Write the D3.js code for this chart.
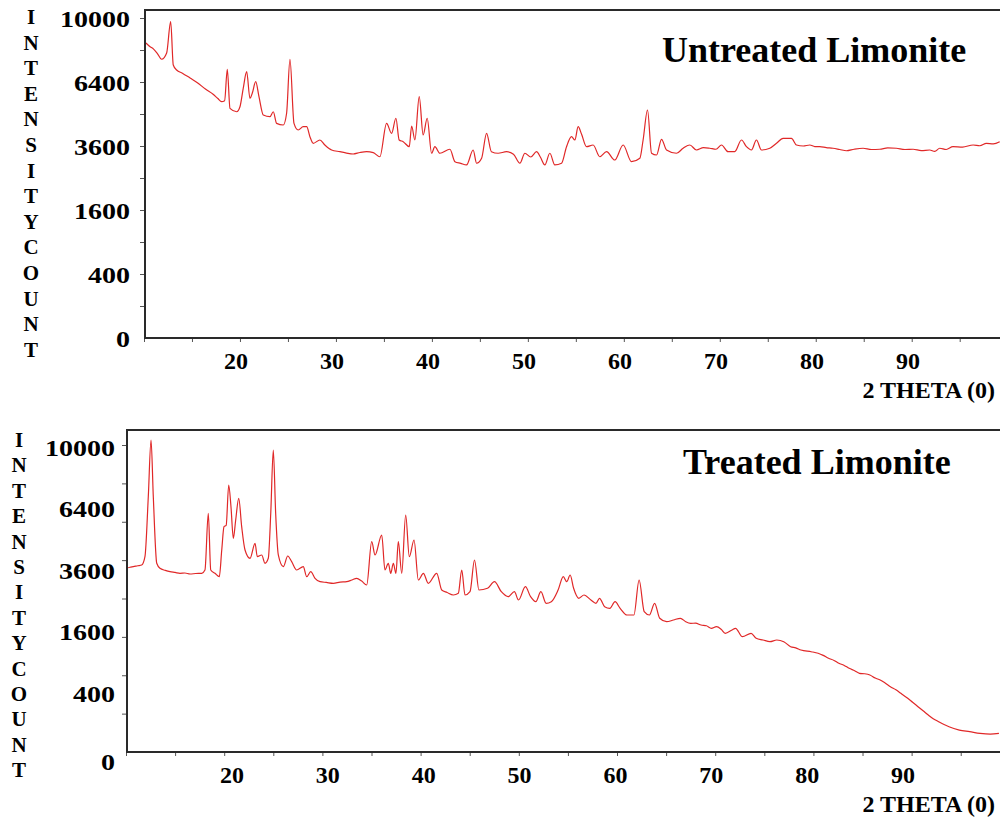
<!DOCTYPE html>
<html>
<head>
<meta charset="utf-8">
<script src="https://cdn.jsdelivr.net/npm/d3@7"></script>
<style>
    body { margin: 0; background: #fff; }
    svg { display: block; }
    text { font-family: "Liberation Serif", "Times New Roman", serif; font-weight: bold; fill: #000; }
</style>
</head>
<body>
<script>
//2 theta (deg), intensity count
var untreated = [
    [10.2, 8500], [10.6, 8300], [11.0, 8150], [11.4, 7900], [11.84, 7588], [12.36, 7932], [12.78, 9771], [13.05, 7278],
    [13.4, 7014], [14.0, 6850], [14.8, 6600], [15.6, 6350], [16.4, 6050], [17.2, 5800], [17.7, 5600], [18.09, 5452],
    [18.4, 5500], [18.68, 7050], [18.96, 5152], [19.66, 5000], [20.0, 5223], [20.34, 6088], [20.7, 6927], [21.04, 5611],
    [21.28, 5848], [21.64, 6415], [21.98, 5687], [22.43, 4856], [23.13, 4783], [23.47, 5000], [23.82, 4499], [24.51, 4430],
    [24.86, 4932], [25.21, 7588], [25.63, 4499], [26.07, 4225], [26.59, 4360], [26.95, 4360], [27.29, 3958], [27.64, 3702],
    [28.33, 3829], [28.85, 3638], [29.55, 3452], [30.42, 3390], [31.1, 3340], [31.8, 3306], [32.5, 3360], [33.2, 3390],
    [33.89, 3354], [34.58, 3209], [35.28, 4499], [35.8, 4092], [36.25, 4715], [36.59, 3829], [37.01, 3764], [37.64, 3574],
    [37.89, 4389], [38.23, 3829], [38.68, 5687], [39.09, 4024], [39.51, 4715], [39.97, 3333], [40.31, 3574], [40.83, 3333],
    [41.88, 3479], [42.4, 3036], [43.0, 2980], [43.61, 2925], [44.3, 3452], [44.66, 2982], [45.18, 3155], [45.7, 4092],
    [46.2, 3390], [46.9, 3333], [47.78, 3390], [48.5, 3300], [49.17, 2982], [49.69, 3333], [50.3, 3200], [50.91, 3390],
    [51.3, 3200], [51.77, 2925], [52.29, 3333], [52.81, 2925], [53.51, 2982], [54.03, 3574], [54.55, 3958], [54.9, 3830],
    [55.24, 4360], [55.6, 4050], [56.11, 3574], [56.8, 3638], [57.5, 3209], [58.2, 3390], [59.06, 3094], [59.93, 3638],
    [60.8, 3036], [61.67, 3155], [62.01, 3829], [62.47, 5077], [62.89, 3333], [63.41, 3270], [63.93, 3856], [64.45, 3452],
    [65.49, 3333], [66.18, 3516], [66.88, 3638], [67.57, 3452], [68.3, 3540], [68.96, 3516], [69.6, 3480], [70.18, 3638],
    [70.86, 3390], [71.56, 3390], [72.26, 3829], [72.78, 3574], [73.3, 3452], [73.82, 3829], [74.34, 3452], [75.21, 3516],
    [75.91, 3702], [76.59, 3895], [77.47, 3895], [77.99, 3638], [78.7, 3600], [79.38, 3638], [79.9, 3580], [80.42, 3574],
    [81.1, 3540], [81.8, 3516], [82.5, 3470], [83.2, 3424], [84.0, 3480], [84.93, 3516], [85.8, 3470], [86.67, 3479],
    [87.5, 3530], [88.4, 3516], [89.3, 3470], [90.14, 3479], [91.0, 3430], [91.88, 3452], [92.4, 3400], [92.92, 3516],
    [93.6, 3470], [94.3, 3574], [95.3, 3560], [96.4, 3638], [97.1, 3610], [97.78, 3702], [98.5, 3680], [99.17, 3764]
];

//2 theta (deg), intensity count
var treated = [
    [10.07, 3581], [10.4, 3620], [10.74, 3643], [11.2, 3680], [11.6, 3710], [11.93, 4047], [12.27, 6916], [12.55, 10328],
    [12.78, 6916], [13.13, 3778], [13.46, 3581], [14.0, 3500], [14.48, 3449], [15.0, 3420], [15.5, 3388], [16.0, 3400],
    [16.52, 3362], [17.1, 3380], [17.71, 3388], [18.04, 3515], [18.38, 6045], [18.63, 3515], [19.06, 3388], [19.5, 3260],
    [19.75, 4329], [19.98, 5386], [20.2, 5450], [20.46, 7564], [20.69, 6384], [20.93, 4845], [21.17, 5711], [21.48, 6829],
    [21.78, 5386], [22.12, 4329], [22.63, 3981], [23.14, 4621], [23.37, 4047], [23.82, 4118], [24.15, 3778], [24.49, 3981],
    [24.74, 6045], [25.0, 9677], [25.24, 6045], [25.51, 4118], [26.02, 3643], [26.47, 4076], [26.87, 3843], [27.38, 3515],
    [28.05, 3643], [28.4, 3260], [28.81, 3449], [29.25, 3201], [29.76, 3077], [30.4, 3050], [31.11, 3020], [31.8, 3060],
    [32.47, 3077], [33.0, 3140], [33.49, 3201], [34.0, 3100], [34.51, 2959], [35.02, 4693], [35.36, 4118], [36.04, 4996],
    [36.37, 3515], [36.71, 3778], [36.96, 3388], [37.22, 3778], [37.49, 3388], [37.73, 4693], [38.08, 3388], [38.48, 5960],
    [38.85, 4047], [39.33, 4769], [39.77, 3139], [40.28, 3388], [40.78, 3020], [41.64, 3388], [42.15, 2785], [42.7, 2700],
    [43.33, 2615], [43.84, 2672], [44.19, 3515], [44.52, 2615], [45.03, 2726], [45.49, 3911], [45.94, 2785], [46.81, 2843],
    [47.52, 3077], [48.22, 2726], [48.92, 2559], [49.55, 2726], [49.97, 2451], [50.67, 2899], [51.2, 2559], [51.73, 2397],
    [52.25, 2726], [52.78, 2346], [53.31, 2397], [54.0, 2785], [54.53, 3260], [54.88, 3077], [55.23, 3324], [55.58, 2843],
    [56.11, 2507], [56.64, 2615], [57.34, 2451], [57.86, 2346], [58.22, 2507], [58.74, 2240], [59.27, 2191], [59.8, 2397],
    [60.32, 2191], [61.02, 1991], [61.72, 1991], [62.25, 3139], [62.77, 2089], [63.3, 1991], [63.83, 2346], [64.35, 1897],
    [65.05, 1801], [65.75, 1849], [66.46, 1897], [67.0, 1800], [67.51, 1757], [68.0, 1760], [68.56, 1711], [69.1, 1690],
    [69.61, 1624], [70.13, 1666], [70.6, 1600], [71.02, 1495], [71.71, 1579], [72.07, 1624], [72.77, 1411], [73.65, 1495],
    [74.17, 1372], [74.87, 1331], [75.57, 1291], [76.27, 1331], [76.98, 1291], [77.68, 1176], [78.2, 1150], [78.73, 1104],
    [79.78, 1067], [80.48, 1034], [81.0, 990], [81.54, 932], [82.1, 890], [82.59, 835], [83.1, 800], [83.64, 743],
    [84.2, 700], [84.69, 657], [85.2, 650], [85.75, 629], [86.3, 580], [86.8, 550], [87.3, 505], [87.84, 452],
    [88.4, 410], [88.9, 366], [89.6, 306], [90.1, 262], [90.65, 218], [91.2, 178], [91.7, 145], [92.2, 118],
    [92.76, 97], [93.3, 80], [93.81, 68], [94.86, 51], [95.91, 44], [96.97, 37], [98.01, 34], [98.89, 37]
];

//tick labels and tick positions
var yLabels = [0, 400, 1600, 3600, 6400, 10000];
var xLabels = [20, 30, 40, 50, 60, 70, 80, 90];
var xTicks = [10, 15, 20, 25, 30, 35, 40, 45, 50, 55, 60, 65, 70, 75, 80, 85, 90, 95];
var topYTicks = [100, 400, 900, 1600, 2500, 3600, 4900, 6400, 8100, 10000];
var bottomYTicks = [156.25, 625, 1406.25, 2500, 3906.25, 5625, 7656.25, 10000];
var axisLetters = ["I", "N", "T", "E", "N", "S", "I", "T", "Y", "C", "O", "U", "N", "T"];

var svg = d3.select("body")
    .append("svg")
    .attr("width", 1000)
    .attr("height", 818);

//function to draw one diffraction panel
function setPanel(data, p) {
    var x = d3.scaleLinear()
        .domain([10, p.thetaMax])
        .range([p.x0, p.x1]);

    var y = d3.scaleSqrt()
        .domain([0, 10000])
        .range([p.bottom, p.y10000]);

    //separate scale for the tick labels, which sit a little off the ticks
    var xLab = d3.scaleLinear()
        .domain([20, 90])
        .range(p.labelRange);

    var g = svg.append("g");

    //pattern
    var line = d3.line()
        .curve(d3.curveMonotoneX)
        .x(function (d) { return x(d[0]); })
        .y(function (d) { return y(d[1]); });

    g.append("path")
        .datum(data)
        .attr("d", line)
        .attr("fill", "none")
        .attr("stroke", "#e02828")
        .attr("stroke-width", 1.2)
        .attr("stroke-linejoin", "round");

    //x ticks
    g.append("g")
        .attr("transform", "translate(0," + p.bottom + ")")
        .call(d3.axisBottom(x).tickValues(xTicks).tickSize(4).tickFormat(""))
        .call(function (a) {
            a.select(".domain").remove();
            a.selectAll("line").attr("stroke", "#555");
        });

    //y ticks
    g.append("g")
        .attr("transform", "translate(" + p.frameX + ",0)")
        .call(d3.axisLeft(y).tickValues(p.yTicks).tickSize(5).tickFormat(""))
        .call(function (a) {
            a.select(".domain").remove();
            a.selectAll("line").attr("stroke", "#555");
        });

    //frame: left, top and bottom lines
    g.append("path")
        .attr("d", "M1000," + p.top + "H" + p.frameX + "V" + p.bottom + "H1000")
        .attr("fill", "none")
        .attr("stroke", "#2a2a2a")
        .attr("stroke-width", 2);

    //y tick labels
    g.selectAll(".ylab")
        .data(yLabels)
        .enter()
        .append("text")
        .attr("class", "ylab")
        .attr("x", p.yLabelRight)
        .attr("y", function (d) { return y(d) + (d === 0 ? p.zeroDy : p.yLabelDy); })
        .attr("text-anchor", "end")
        .attr("dominant-baseline", "central")
        .attr("font-size", 24)
        .attr("textLength", function (d) { return String(d).length * 14; })
        .attr("lengthAdjust", "spacingAndGlyphs")
        .text(function (d) { return d; });

    //x tick labels
    g.selectAll(".xlab")
        .data(xLabels)
        .enter()
        .append("text")
        .attr("class", "xlab")
        .attr("x", function (d) { return xLab(d); })
        .attr("y", p.xLabelY)
        .attr("text-anchor", "middle")
        .attr("font-size", 24)
        .text(function (d) { return d; });

    //vertical axis title, one letter per row
    g.selectAll(".letter")
        .data(axisLetters)
        .enter()
        .append("text")
        .attr("class", "letter")
        .attr("x", p.letterX)
        .attr("y", function (d, i) { return p.letterY + i * p.letterStep; })
        .attr("text-anchor", "middle")
        .attr("dominant-baseline", "central")
        .attr("font-size", 21)
        .text(function (d) { return d; });

    g.append("text")
        .attr("x", 995)
        .attr("y", p.thetaY)
        .attr("text-anchor", "end")
        .attr("font-size", 24)
        .text("2 THETA (0)");

    g.append("text")
        .attr("x", p.titleX)
        .attr("y", p.titleY)
        .attr("font-size", 36)
        .text(p.title);
}

setPanel(untreated, {
    title: "Untreated Limonite", titleX: 662, titleY: 62,
    thetaMax: 99.2, x0: 144, x1: 1000, frameX: 145,
    top: 10, bottom: 338, y10000: 18, yTicks: topYTicks,
    yLabelRight: 130, yLabelDy: 1, zeroDy: 1, labelRange: [236, 908], xLabelY: 369, thetaY: 398,
    letterX: 31, letterY: 17, letterStep: 25.6
});

setPanel(treated, {
    title: "Treated Limonite", titleX: 683, titleY: 474,
    thetaMax: 99, x0: 126, x1: 1000, frameX: 127,
    top: 430, bottom: 752, y10000: 445, yTicks: bottomYTicks,
    yLabelRight: 115, yLabelDy: 3, zeroDy: 10, labelRange: [232, 903], xLabelY: 783, thetaY: 812,
    letterX: 19, letterY: 440, letterStep: 25.4
});
</script>
</body>
</html>
